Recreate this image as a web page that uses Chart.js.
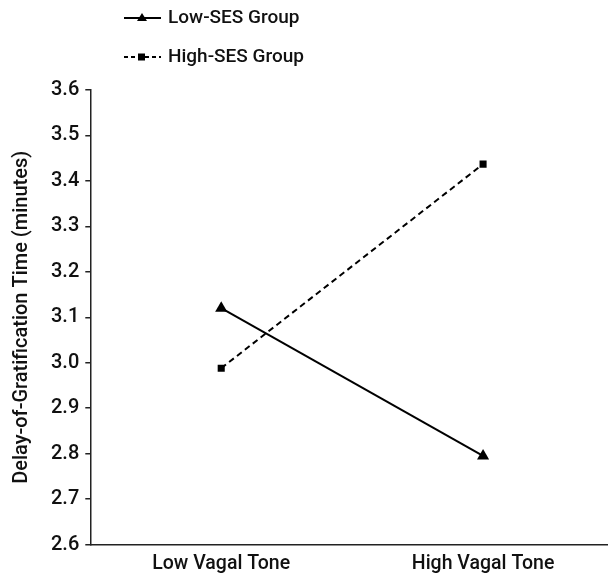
<!DOCTYPE html>
<html>
<head>
<meta charset="utf-8">
<script src="https://cdn.jsdelivr.net/npm/chart.js@4"></script>
<style>
  html, body { margin: 0; padding: 0; background: #fff; overflow: hidden; }
  /* a little wider than the window: the x axis runs off the right edge in the figure */
  #wrap { width: 614px; height: 581px; position: relative; }
</style>
</head>
<body>
<div id="wrap"><canvas id="chart"></canvas></div>
<script>
const categories = ['Low Vagal Tone', 'High Vagal Tone'];
const lowSes = [3.12, 2.795];
const highSes = [2.988, 3.437];
const seriesNames = ['Low-SES Group', 'High-SES Group'];

const FONT = 'Roboto, "Liberation Sans", sans-serif';

// legend drawn at the top left: line with a marker in the middle, then the label
const legendPlugin = {
  id: 'topLegend',
  afterDraw(chart) {
    const ctx = chart.ctx;
    const rows = [
      { name: seriesNames[0], dash: [], style: 'triangle', y: 18 },
      { name: seriesNames[1], dash: [4, 3], style: 'rect', y: 57 },
    ];
    ctx.save();
    rows.forEach(r => {
      ctx.strokeStyle = '#000';
      ctx.lineWidth = 2;
      ctx.setLineDash(r.dash);
      ctx.beginPath();
      ctx.moveTo(124, r.y);
      ctx.lineTo(161, r.y);
      ctx.stroke();
      ctx.setLineDash([]);
      ctx.fillStyle = '#000';
      if (r.style === 'triangle') {
        ctx.beginPath();
        ctx.moveTo(142, r.y - 5);
        ctx.lineTo(147, r.y + 3);
        ctx.lineTo(137, r.y + 3);
        ctx.closePath();
        ctx.fill();
      } else {
        ctx.fillRect(138, r.y - 3.5, 7, 7);
      }
      ctx.fillStyle = '#111';
      ctx.font = '500 19px ' + FONT;
      ctx.textBaseline = 'middle';
      ctx.fillText(r.name, 168, r.y);
    });
    ctx.restore();
  }
};

new Chart(document.getElementById('chart'), {
  type: 'line',
  data: {
    labels: categories,
    datasets: [
      {
        label: seriesNames[0],
        data: lowSes,
        borderColor: '#000',
        backgroundColor: '#000',
        borderWidth: 2,
        pointStyle: 'triangle',
        pointRadius: 7,
        pointBorderWidth: 0,
        tension: 0,
      },
      {
        label: seriesNames[1],
        data: highSes,
        borderColor: '#000',
        backgroundColor: '#000',
        borderWidth: 2,
        borderDash: [6, 4],
        pointStyle: 'rect',
        pointRadius: 5,
        pointBorderWidth: 0,
        tension: 0,
      },
    ],
  },
  options: {
    responsive: true,
    maintainAspectRatio: false,
    animation: false,
    layout: { autoPadding: false, padding: { top: 90, right: 0, left: 10, bottom: 5 } },
    plugins: {
      legend: { display: false },
      tooltip: { enabled: false },
    },
    scales: {
      x: {
        offset: true,
        grid: { display: false },
        border: { display: true, color: '#222', width: 1.5 },
        ticks: { color: '#111', font: { family: FONT, size: 19.5, weight: '500' }, padding: 0 },
      },
      y: {
        min: 2.6,
        max: 3.6,
        grid: { drawOnChartArea: false, drawTicks: true, tickLength: 5, color: '#222', lineWidth: 1.5 },
        border: { display: true, color: '#222', width: 1.5 },
        ticks: {
          stepSize: 0.1,
          color: '#111',
          padding: 6,
          font: { family: FONT, size: 20, weight: '500' },
          callback: v => v.toFixed(1),
        },
        title: {
          display: true,
          text: 'Delay-of-Gratification Time (minutes)',
          color: '#111',
          font: { family: FONT, size: 20, weight: '500' },
          padding: { top: 0, bottom: 11 },
        },
      },
    },
  },
  plugins: [legendPlugin],
});
</script>
</body>
</html>
